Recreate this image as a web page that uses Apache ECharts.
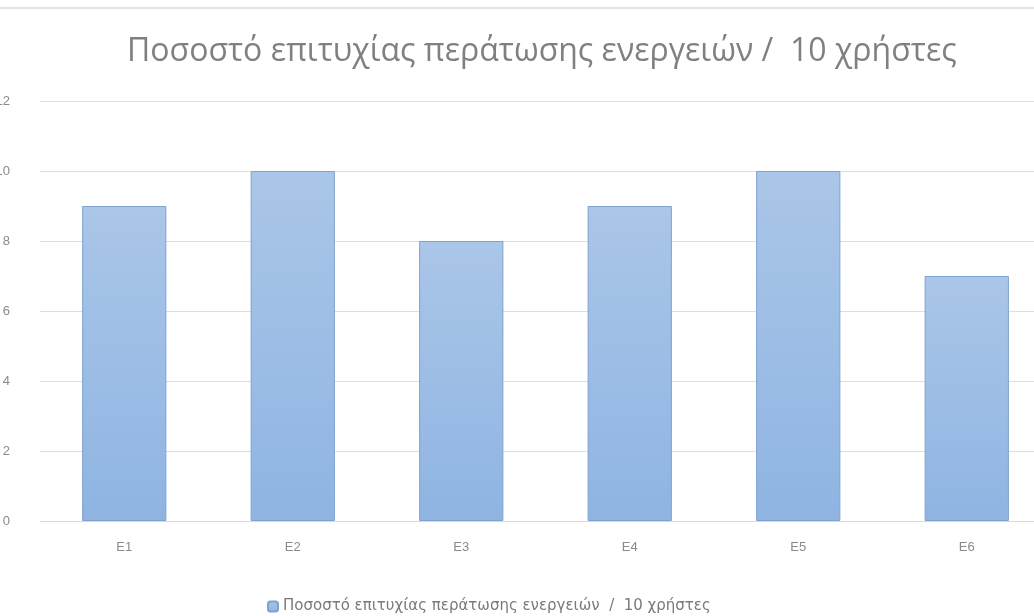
<!DOCTYPE html>
<html>
<head>
<meta charset="utf-8">
<script src="https://cdn.jsdelivr.net/npm/echarts@6/dist/echarts.min.js"></script>
<style>
  html, body { margin: 0; padding: 0; background: #fff; }
  #chart { width: 1034px; height: 616px; }
</style>
</head>
<body>
<div id="chart"></div>
<script>
const titleText = 'Ποσοστό επιτυχίας περάτωσης ενεργειών /  10 χρήστες';
const seriesName = 'Ποσοστό επιτυχίας περάτωσης ενεργειών  /  10 χρήστες';
const categories = ['E1', 'E2', 'E3', 'E4', 'E5', 'E6'];
const values = [9, 10, 8, 9, 10, 7];

const chart = echarts.init(document.getElementById('chart'));
const option = {
  backgroundColor: '#fff',
  animation: false,
  graphic: [{
    type: 'rect',
    shape: { x: 0, y: 7, width: 1034, height: 2 },
    style: { fill: '#e3e3e3' }
  }],
  title: {
    text: titleText,
    left: 122,
    top: 31,
    textStyle: {
      color: '#808080',
      fontFamily: 'Open Sans',
      fontWeight: 'normal',
      fontSize: 32
    }
  },
  legend: {
    top: 594,
    left: 262,
    itemWidth: 10,
    itemHeight: 10,
    itemGap: 4,
    textStyle: { color: '#7a7a7a', fontSize: 15, fontFamily: 'DejaVu Sans' },
    data: [seriesName]
  },
  grid: {
    left: 40, right: -17, top: 101, bottom: 95,
    containLabel: false,
    outerBoundsMode: 'none'
  },
  xAxis: {
    type: 'category',
    data: categories,
    axisLine: { lineStyle: { color: '#d9d9d9' } },
    axisTick: { show: false },
    axisLabel: { color: '#8a8a8a', fontSize: 13, margin: 20 }
  },
  yAxis: {
    type: 'value',
    min: 0,
    max: 12,
    interval: 2,
    axisLine: { show: false },
    axisTick: { show: false },
    axisLabel: { color: '#8a8a8a', fontSize: 13, margin: 30 },
    splitLine: { lineStyle: { color: '#dedede' } }
  },
  series: [{
    name: seriesName,
    type: 'bar',
    data: values,
    barWidth: '50%',
    itemStyle: {
      color: new echarts.graphic.LinearGradient(0, 0, 0, 1, [
        { offset: 0, color: '#aac6e8' },
        { offset: 1, color: '#8fb4e2' }
      ]),
      borderColor: '#7fa2cf',
      borderWidth: 1
    }
  }]
};
chart.setOption(option);
</script>
</body>
</html>
